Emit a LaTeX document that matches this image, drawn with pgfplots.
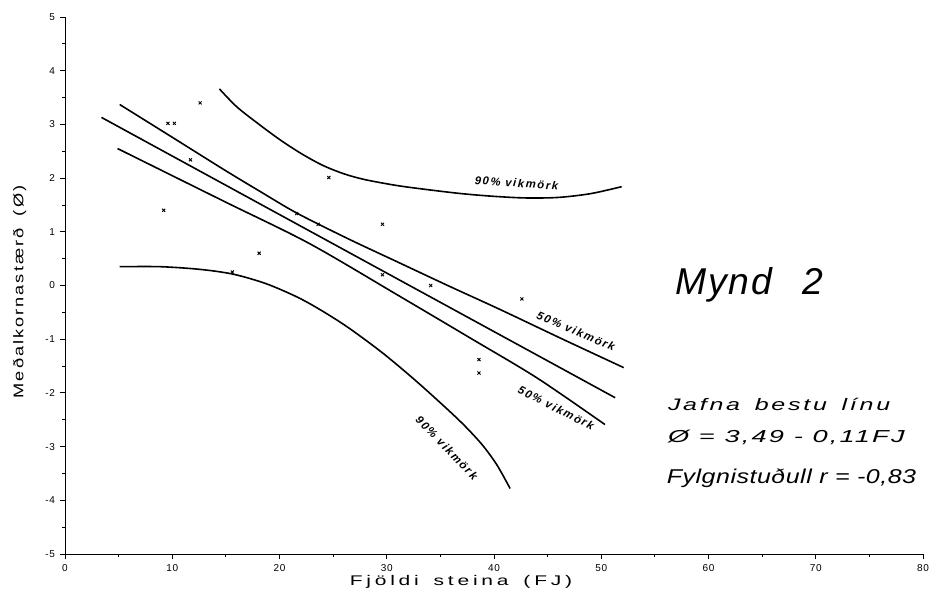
\documentclass[border=0pt]{standalone}
\usepackage{fontspec}
\setmainfont{Liberation Sans}
\usepackage{graphicx}
\usepackage{pgfplots}
\pgfplotsset{compat=1.18}
\newfontfamily\tickfont[LetterSpace=8]{Liberation Sans}
\newfontfamily\xlabfont[LetterSpace=18]{Liberation Sans}
\newfontfamily\ylabfont[LetterSpace=11]{Liberation Sans}
\newfontfamily\bandfont[LetterSpace=14]{Liberation Sans}
\newfontfamily\myndfont[LetterSpace=5]{Liberation Sans}
\newfontfamily\jafnafont[LetterSpace=11]{Liberation Sans}
\newfontfamily\eqfont[LetterSpace=8]{Liberation Sans}
\newfontfamily\fylgfont[LetterSpace=2]{Liberation Sans}

\pgfplotstableread{
x y
12.6 3.40
9.6 3.02
10.2 3.02
11.7 2.34
24.6 2.01
9.2 1.40
21.6 1.34
23.6 1.14
29.6 1.14
18.1 0.60
15.6 0.25
29.6 0.20
34.1 0.00
42.6 -0.25
38.6 -1.38
38.6 -1.63
}\pts

\pgfplotstableread{
x y
3.4 3.13
51.3 -2.09
}\mid

\pgfplotstableread{
x y
5.1 3.37
10.0 2.76
14.8 2.16
18.2 1.75
21.6 1.35
26.4 0.87
31.2 0.42
35.9 -0.02
40.6 -0.45
46.3 -0.99
52.1 -1.53
}\upfifty

\pgfplotstableread{
x y
4.9 2.55
14.8 1.57
22.8 0.78
31.2 -0.20
37.8 -0.98
44.0 -1.72
50.35 -2.59
}\lofifty

\pgfplotstableread{
x y
14.4 3.66
16.0 3.33
17.9 3.03
20.0 2.72
22.0 2.46
24.0 2.24
26.0 2.08
28.0 1.97
31.0 1.86
34.0 1.78
37.0 1.71
40.0 1.66
43.0 1.63
46.0 1.64
49.0 1.71
51.9 1.84
}\upninety

\pgfplotstableread{
x y
5.1 0.35
8.9 0.35
12.6 0.30
15.7 0.21
18.8 0.03
21.8 -0.23
24.2 -0.50
26.6 -0.81
29.7 -1.27
32.8 -1.79
35.9 -2.35
37.5 -2.66
39.0 -2.99
40.3 -3.35
41.5 -3.78
}\loninety

\begin{document}
\begin{tikzpicture}
\useasboundingbox (-48.75pt,-28.5pt) rectangle (649.5pt,415.5pt);
\begin{axis}[
  scale only axis, width=643.5pt, height=402.75pt,
  xmin=0, xmax=80, ymin=-5, ymax=5,
  axis x line*=bottom, axis y line*=left,
  axis line style={-, line width=0.6pt},
  xtick={0,10,...,80}, xticklabels={0,10,20,30,40,50,60,70,80},
  ytick={-5,-4,...,5}, yticklabels={-5,-4,-3,-2,-1,0,1,2,3,4,5},
  minor x tick num=1, minor y tick num=1,
  tick align=outside, major tick length=4pt, minor tick length=2pt,
  tick style={black, line width=0.6pt},
  ticklabel style={font=\tickfont\fontsize{7.5}{8.5}\selectfont},
  xlabel={\scalebox{1.5}[1]{Fjöldi\hspace{0.25em} steina\hspace{0.25em} (FJ)}},
  ylabel={\scalebox{1.3}[1]{Meðalkornastærð\hspace{0.3em} (Ø)}},
  xlabel style={font=\xlabfont\fontsize{10.5}{12}\selectfont, at={(axis description cs:0.4615,0)}, anchor=center, yshift=-21pt},
  ylabel style={font=\ylabfont\fontsize{10.5}{12}\selectfont, at={(axis description cs:0,0.488)}, anchor=center, yshift=34pt},
  clip=false,
]
\addplot[only marks, mark=x, mark size=1.6pt, mark options={line width=0.7pt}] table {\pts};
\addplot[line width=1.2pt, no marks] table {\mid};
\addplot[line width=1.2pt, no marks, smooth] table {\upfifty};
\addplot[line width=1.2pt, no marks, smooth] table {\lofifty};
\addplot[line width=1.2pt, no marks, smooth] table {\upninety};
\addplot[line width=1.2pt, no marks, smooth] table {\loninety};

\node[font=\bandfont\bfseries\itshape\fontsize{8.5}{10}\selectfont, rotate=-4] at (axis cs:42.1,1.91) {90\% vikmörk};
\node[font=\bandfont\bfseries\itshape\fontsize{8.5}{10}\selectfont, rotate=-23] at (axis cs:47.65,-0.85) {50\% vikmörk};
\node[font=\bandfont\bfseries\itshape\fontsize{8.5}{10}\selectfont, rotate=-27] at (axis cs:45.8,-2.28) {50\% vikmörk};
\node[font=\bandfont\bfseries\itshape\fontsize{8.5}{10}\selectfont, rotate=-46] at (axis cs:35.6,-3.02) {90\% vikmörk};

\node[font=\myndfont\itshape\fontsize{28}{30}\selectfont] at (axis cs:63.8,0.02) {Mynd\hspace{0.8em}2};
\node[anchor=west, inner sep=0pt, font=\jafnafont\itshape\fontsize{12.5}{14}\selectfont] at (axis cs:56.2,-2.22) {\scalebox{1.5}[1]{Jafna\hspace{0.2em} bestu\hspace{0.2em} línu}};
\node[anchor=west, inner sep=0pt, font=\eqfont\itshape\fontsize{13}{15}\selectfont] at (axis cs:56.2,-2.83) {\scalebox{1.57}[1]{Ø = 3,49 - 0,11FJ}};
\node[anchor=west, inner sep=0pt, font=\fylgfont\itshape\fontsize{15}{17}\selectfont] at (axis cs:56.1,-3.60) {\scalebox{1.25}[1]{Fylgnistuðull r = -0,83}};
\end{axis}
\end{tikzpicture}
\end{document}
